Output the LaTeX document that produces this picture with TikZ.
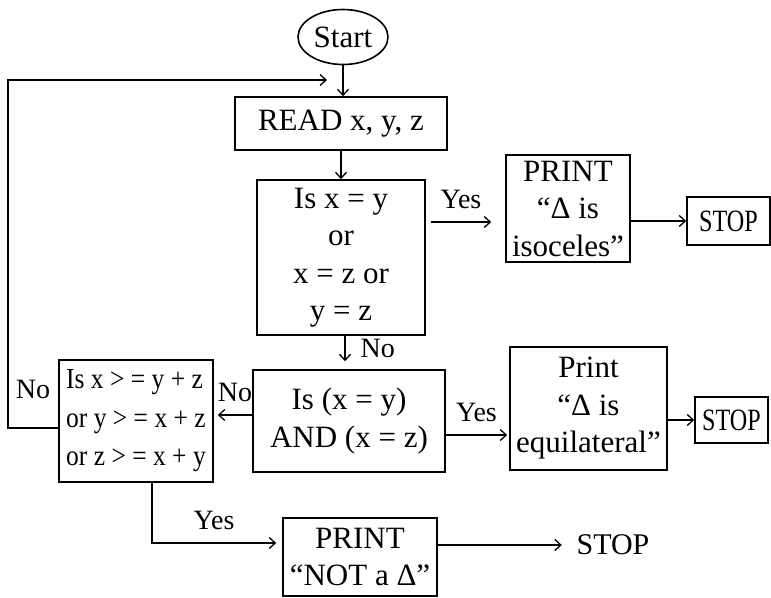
\documentclass[tikz,border=0pt]{standalone}
\usepackage{fontspec}
\setmainfont{Liberation Serif}
\newfontfamily\narrowfont[FakeStretch=0.78]{Liberation Serif}
\newfontfamily\condfont[FakeStretch=0.88]{Liberation Serif}
\usetikzlibrary{arrows.meta,shapes.geometric}

\begin{document}
\begin{tikzpicture}[x=1pt,y=-1pt]
            \useasboundingbox (0,0) rectangle (771,597);

            \begin{scope}[every node/.style = {rectangle, draw, line width=1.6pt, inner sep=0pt, align=center,
                                               font=\fontsize{31}{37.5}\selectfont}]
                \node[ellipse, minimum width=90pt, minimum height=55pt] (start) at (343,37) {Start};
                \node[minimum width=212pt, minimum height=53pt]  (read)   at (341,123.5) {READ x, y, z};
                \node[minimum width=168pt, minimum height=155pt] (isoc)   at (341,257.5) {Is x = y\\ or\\ x = z or\\ y = z};
                \node[minimum width=124pt, minimum height=107pt] (prtiso) at (568,208.5) {PRINT\\ “Δ is\\ isoceles”};
                \node[minimum width=83pt,  minimum height=48pt,
                      font=\narrowfont\fontsize{31}{36}\selectfont] (stopa) at (728.5,221) {STOP};
                \node[minimum width=192pt, minimum height=102pt] (equal)  at (349,421)   {Is (x = y)\\ AND (x = z)};
                \node[minimum width=157pt, minimum height=123pt] (prteq)  at (588.5,408.5) {Print\\ “Δ is\\ equilateral”};
                \node[minimum width=73pt,  minimum height=46pt,
                      font=\narrowfont\fontsize{31}{36}\selectfont] (stopb) at (731.5,420) {STOP};
                \node[minimum width=154pt, minimum height=122pt, align=left,
                      font=\condfont\fontsize{29}{38.5}\selectfont] (tri) at (136,421) {Is x > = y + z\\ or y > = x + z\\ or z > = x + y};
                \node[minimum width=154pt, minimum height=78pt]  (prtnot) at (360,557)   {PRINT\\ “NOT a Δ”};
                \node[draw=none, font=\fontsize{30}{36}\selectfont] (stopc) at (613,545) {STOP};
            \end{scope}

            \coordinate (loop)   at (8,80);
            \coordinate (joinin) at (327,80);

            \begin{scope}[>={Straight Barb[length=6pt,width=11pt]}, line width=1.3pt,
                            every node/.style={font=\fontsize{28}{34}\selectfont, inner sep=3pt}]
                \draw [->] (start) -- (start |- read.north);
                \draw [->] (read) -- (read |- isoc.north);
                \draw [->] ([xshift=5pt,yshift=35.5pt]isoc.east) -- node[above=10pt] {Yes} ([xshift=-14pt,yshift=-13.5pt]prtiso.west);
                \draw [->] (prtiso.east |- stopa.west) -- (stopa.west);
                \draw [->] ([xshift=4pt]isoc.south) -- node[right=12pt] {No} ([xshift=-4pt,yshift=8pt]equal.north);
                \draw [->] ([yshift=6pt]equal.west) -- node[above=10pt] {No} ([xshift=4pt,yshift=6pt]tri.east);
                \draw [->] ([yshift=-14pt]equal.east) -- node[above=10pt] {Yes} ([xshift=-2pt,yshift=-26.5pt]prteq.west);
                \draw [->] (prteq.east |- stopb.west) -- (stopb.west);
                \draw [->] ([yshift=-7pt]tri.west) -| node[pos=0.25, above=26pt] {No} (loop) -- (joinin);
                \draw [->] ([xshift=16pt]tri.south) |- node[pos=0.75, above=10pt] {Yes} ([xshift=-6pt,yshift=14pt]prtnot.west);
                \draw [->] ([yshift=12pt]prtnot.east) -- ([xshift=-14pt]stopc.west);
            \end{scope}
        \end{tikzpicture}
\end{document}
